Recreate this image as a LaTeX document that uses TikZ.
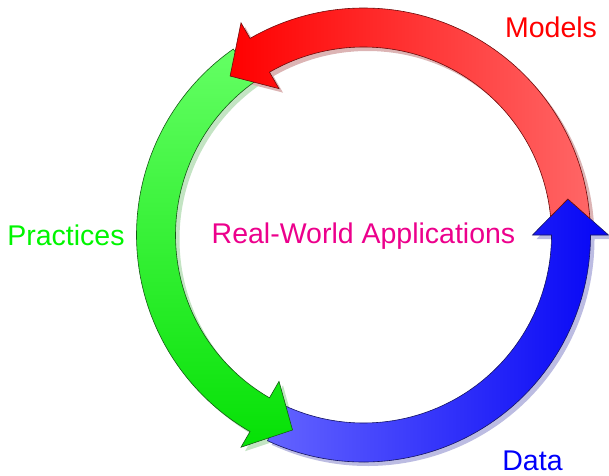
\documentclass[tikz,border=0pt]{standalone}
\usepackage{fontspec}
\setmainfont{Liberation Sans}
\definecolor{redA}{RGB}{255,0,0}
\definecolor{redB}{RGB}{255,102,102}
\definecolor{redD}{RGB}{110,10,10}
\definecolor{redS}{RGB}{220,180,180}
\definecolor{greenA}{RGB}{100,255,100}
\definecolor{greenB}{RGB}{5,225,5}
\definecolor{greenD}{RGB}{20,90,20}
\definecolor{greenS}{RGB}{195,228,195}
\definecolor{blueA}{RGB}{100,100,255}
\definecolor{blueB}{RGB}{5,5,245}
\definecolor{blueD}{RGB}{20,20,100}
\definecolor{blueS}{RGB}{188,188,226}
\definecolor{txtRed}{RGB}{255,0,0}
\definecolor{txtGreen}{RGB}{0,245,0}
\definecolor{txtMag}{RGB}{236,0,140}
\definecolor{txtBlue}{RGB}{0,0,250}
% plain arc arrow: #1 start angle, #2 head base angle, #3 tip angle, #4 options
\newcommand\arcarrow[4]{%
  \path[#4] (#1:227) arc[start angle=#1,end angle=#2,radius=227]
    -- (#2:245) -- (#3:207.5) -- (#2:169) -- (#2:188)
    arc[start angle=#2,end angle=#1,radius=188] -- cycle;
}
% red arrow: tail notched to fit the blue arrowhead
\newcommand\redarrow[1]{%
  \path[#1] (4.17:227) arc[start angle=4.17,end angle=120,radius=227]
    -- (120:245) -- (130:207.5) -- (120:169) -- (120:188)
    arc[start angle=120,end angle=5.63,radius=188] -- (10:207.5) -- cycle;
}
\tikzset{
  lbl/.style={inner sep=0pt, anchor=base, font=\fontsize{28.5}{34}\selectfont},
  shadowoff/.style={shift={(4,-4)}},
  outl/.style={line width=0.6}
}
\begin{document}
\begin{tikzpicture}[x=1pt,y=1pt]
\useasboundingbox (0,0) rectangle (609,475);
\begin{scope}[shift={(363.5,240)}]
  % shadows
  \arcarrow{245}{360}{370}{fill=blueS, shadowoff}
  \arcarrow{125}{240}{250}{fill=greenS, shadowoff}
  \redarrow{fill=redS, shadowoff}
  % arrows
  \arcarrow{245}{360}{370}{shade, left color=blueA, right color=blueB, draw=blueD, outl}
  \arcarrow{125}{240}{250}{shade, top color=greenA, bottom color=greenB, draw=greenD, outl}
  \redarrow{shade, left color=redA, right color=redB, draw=redD, outl}
\end{scope}
\node[lbl, text=txtRed] (models) at (551,437) {Models};
\node[lbl, text=txtGreen] (practices) at (66,230) {Practices};
\node[lbl, text=txtMag] (rwa) at (363.5,232) {Real-World Applications};
\node[lbl, text=txtBlue] (data) at (532.5,4.5) {Data};
\end{tikzpicture}
\end{document}
